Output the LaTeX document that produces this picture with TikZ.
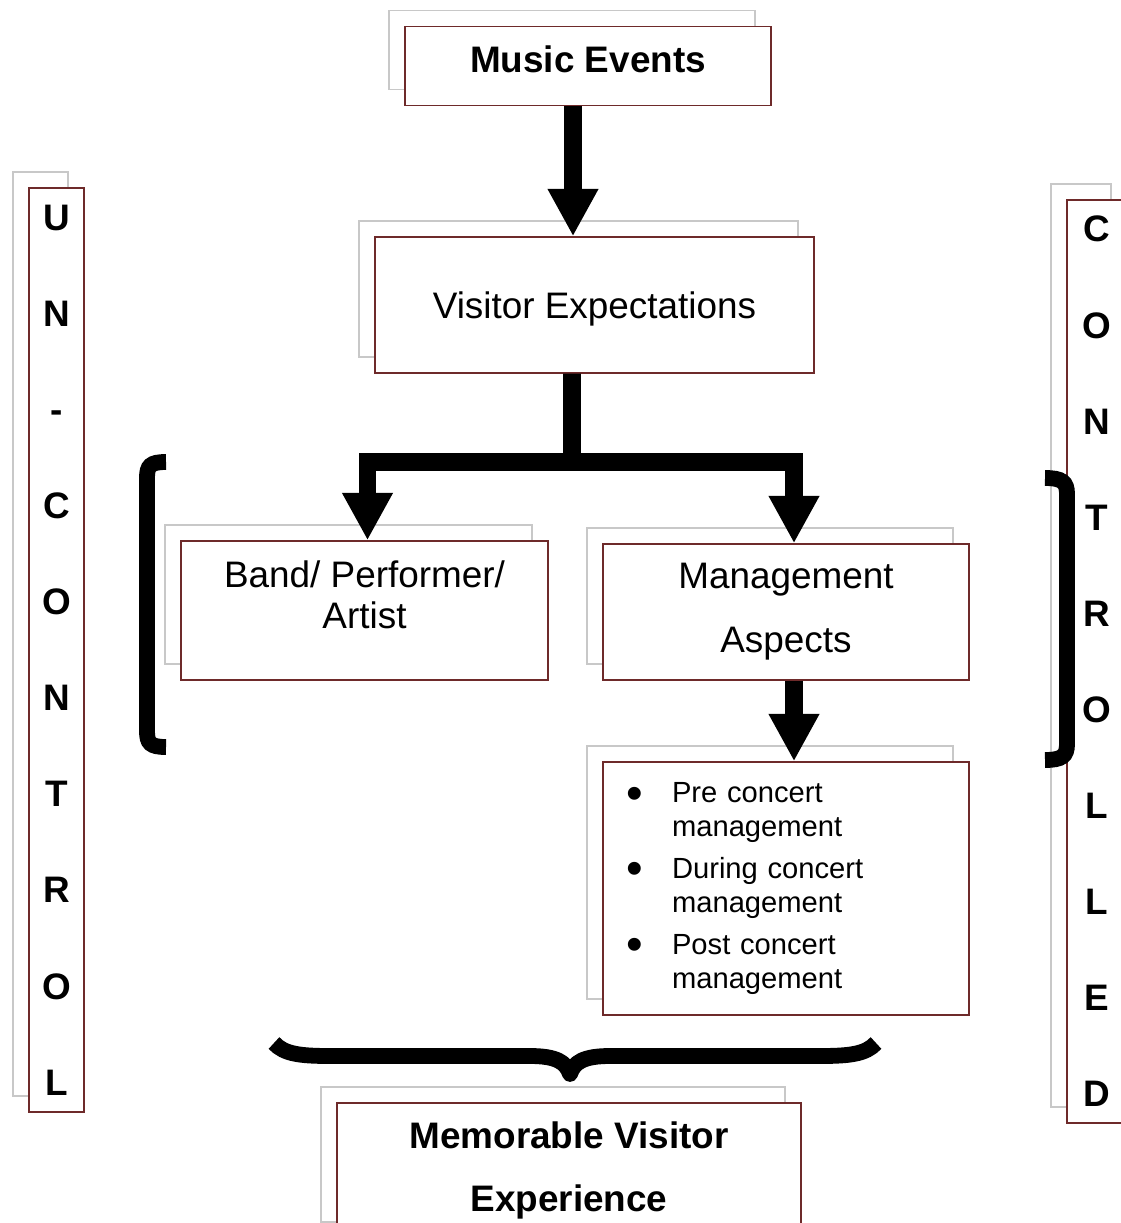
\documentclass[tikz,border=0pt]{standalone}
\usepackage{fontspec}
\setmainfont{Liberation Sans}
\usetikzlibrary{arrows.meta,shadows}
\definecolor{boxred}{RGB}{110,42,42}
\definecolor{shadowgray}{RGB}{200,200,200}
\newcommand{\bulletitem}{\makebox[0.92cm][l]{\smash{\fontsize{27}{19}\selectfont\raisebox{-0.13em}{\textbullet}}}}
\begin{document}
\begin{tikzpicture}[x=0.02cm,y=-0.02cm,
  box/.style={rectangle,draw=boxred,line width=0.8pt,fill=white,align=center,
    general shadow={shadow xshift=-0.32cm,shadow yshift=0.32cm,draw=shadowgray,fill=white,line width=1pt},
    font=\fontsize{21}{25}\selectfont},
  letters/.style={box,minimum width=1.1cm,inner sep=0pt,font=\fontsize{21}{54.7}\selectfont\bfseries},
  bigline/.style={line width=10pt},
  bigarrow/.style={bigline,-{Triangle[width=27pt,length=27pt]}},
  bracket/.style={line width=9pt}]
\useasboundingbox (0,0) rectangle (1120,1223);
\node[box,font=\fontsize{21}{25}\selectfont\bfseries,minimum width=7.32cm,minimum height=1.58cm,text depth=0.27cm] (music) at (588,66) {Music Events};
\node[box,minimum width=8.78cm,minimum height=2.72cm,text depth=0pt] (visitor) at (594.5,305) {Visitor Expectations};
\node[box,minimum width=7.34cm,minimum height=2.78cm,font=\fontsize{21}{23.8}\selectfont] (band) at (364.5,610.5) {Band/ Performer/\\Artist\\[-5.7pt]\mbox{}};
\node[box,minimum width=7.32cm,minimum height=2.72cm,font=\fontsize{21}{36.3}\selectfont] (mgmt) at (786,612) {Management\\Aspects};
\node[box,minimum height=5.06cm,text width=6.4cm,inner xsep=0.46cm,align=left,font=\fontsize{16.6}{19.3}\selectfont] (phases) at (786,888.5)
  {\bulletitem Pre concert\\\hspace*{0.92cm}management\\[4.5pt]
   \bulletitem During concert\\\hspace*{0.92cm}management\\[4.5pt]
   \bulletitem Post concert\\\hspace*{0.92cm}management};
\node[box,font=\fontsize{21}{35.7}\selectfont\bfseries,minimum width=9.28cm,minimum height=2.7cm] (memorable) at (569,1170.5) {Memorable Visitor\\Experience};
\node[letters,minimum height=18.48cm] (uncontrol) at (56.5,650) {U\\N\\-\\C\\O\\N\\T\\R\\O\\L};
\node[letters,minimum width=1.2cm,minimum height=18.46cm] (control) at (1097,661.5) {C\\O\\N\\T\\R\\O\\L\\L\\E\\D};

\draw[bigarrow] ([xshift=-0.3cm]music.south) -- ([xshift=-0.3cm]music.south |- visitor.north);
\coordinate (split) at (572,462);
\draw[bigline] ([xshift=-0.45cm]visitor.south) -- (split);
\draw[bigarrow] (split) -| ([xshift=0.06cm]band.north);
\draw[bigarrow] (split) -| ([xshift=0.16cm]mgmt.north);
\draw[bigarrow] ([xshift=0.16cm]mgmt.south) -- ([xshift=0.16cm]phases.north);

\draw[bracket] (166,462) .. controls (150,462) and (147,466) .. (147,478) -- (147,731)
  .. controls (147,743) and (150,747) .. (166,747);
\draw[bracket] (1045,478) .. controls (1062,478) and (1067,482) .. (1067,494) -- (1067,744)
  .. controls (1067,756) and (1062,760) .. (1045,760);
\draw[line width=9pt,line join=round] (274,1043) .. controls (284,1054) and (300,1056) .. (330,1056) -- (530,1056)
  .. controls (556,1056) and (566,1062) .. (570,1074) .. controls (574,1062) and (584,1056) .. (610,1056)
  -- (820,1056) .. controls (850,1056) and (866,1054) .. (876,1043);
\end{tikzpicture}
\end{document}
